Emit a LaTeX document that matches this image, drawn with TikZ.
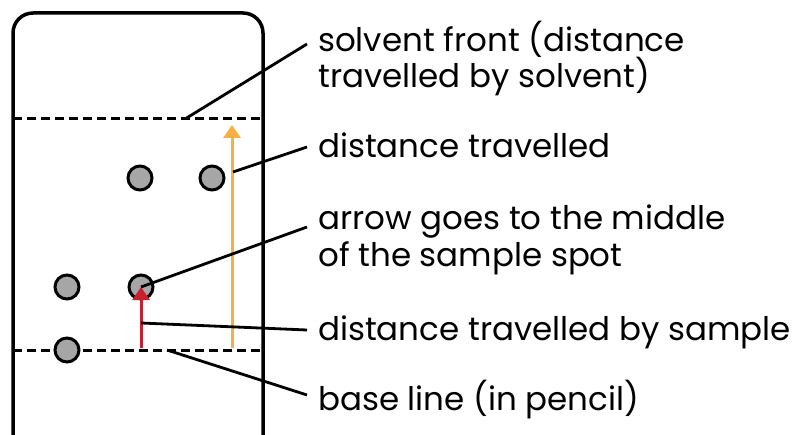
\documentclass[tikz,border=0pt]{standalone}
\usepackage{fontspec}
\setmainfont{Poppins}
\usetikzlibrary{arrows.meta}
\definecolor{spotgray}{HTML}{A6A6A6}
\definecolor{solvorange}{HTML}{F9B042}
\definecolor{samplered}{HTML}{C8202F}
\tikzset{
  spot/.style={circle,draw=black,line width=3pt,fill=spotgray,minimum size=24pt,inner sep=0pt},
  lbl/.style={anchor=base west,inner sep=0pt,font=\fontsize{32.5}{38}\selectfont},
  leader/.style={draw=black,line width=2.8pt},
  dashline/.style={draw=black,line width=3pt,dash pattern=on 9pt off 5pt},
}
\begin{document}
\begin{tikzpicture}[x=1pt,y=-1pt]
\useasboundingbox (0,0) rectangle (802,435);
\begin{scope}
\clip (0,0) rectangle (802,435);
\draw[line width=3.5pt,rounded corners=20pt] (13,13) rectangle (263,470);
\end{scope}
% dashed lines
\coordinate (fl) at (13,119); \coordinate (fr) at (263,119);
\coordinate (bl) at (13,350); \coordinate (br) at (263,350);
\draw[dashline] (fl) -- (fr);
\draw[dashline] (bl) -- (br);
% arrows
\coordinate (ob) at (232,348); \coordinate (ot) at (232,125);
\draw[solvorange,line width=3pt,-{Triangle[width=17pt,length=13pt]}] (ob) -- (ot);
% spots
\node[spot] (s1) at (140,178) {};
\node[spot] (s2) at (212,178) {};
\node[spot] (s3) at (67,287) {};
\node[spot] (s4) at (141,287) {};
\node[spot] (s5) at (67,350) {};
\coordinate (rb) at (141,348);
\draw[samplered,line width=3pt,-{Triangle[width=17pt,length=13pt]}] (rb) -- (s4.center);
% labels
\node[lbl] (t1a) at (318,52) {solvent front (distance};
\node[lbl] (t1b) at (318,88) {travelled by solvent)};
\node[lbl] (t2) at (318,158) {distance travelled};
\node[lbl] (t3a) at (318,230) {arrow goes to the middle};
\node[lbl] (t3b) at (318,267) {of the sample spot};
\node[lbl] (t4) at (318,340) {distance travelled by sample};
\node[lbl] (t5) at (318,410) {base line (in pencil)};
% leader lines
\coordinate (e1) at (307,44); \coordinate (a1) at (185,119);
\coordinate (e2) at (307,147); \coordinate (a2) at (233,172);
\coordinate (e3) at (307,227);
\coordinate (e4) at (307,330); \coordinate (a4) at (141,323);
\coordinate (e5) at (307,395); \coordinate (a5) at (167,350);
\draw[leader] (a1) -- (e1);
\draw[leader] (a2) -- (e2);
\draw[leader] (s4.center) -- (e3);
\draw[leader] (a4) -- (e4);
\draw[leader] (a5) -- (e5);
\end{tikzpicture}
\end{document}
